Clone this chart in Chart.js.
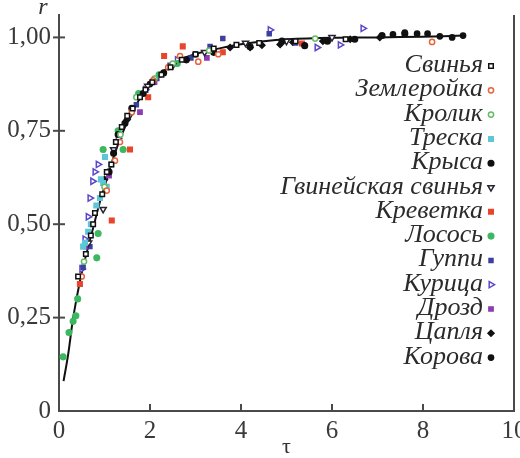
<!DOCTYPE html>
<html>
<head>
<meta charset="utf-8">
<script src="https://cdn.jsdelivr.net/npm/chart.js@4.4.1/dist/chart.umd.min.js"></script>
<style>
  html, body { margin: 0; padding: 0; background: #fff; }
  canvas { display: block; }
</style>
</head>
<body>
<canvas id="growth" width="520" height="458"></canvas>
<script>
// species names, in legend order
const speciesNames = [
  "Свинья", "Землеройка", "Кролик", "Треска", "Крыса", "Гвинейская свинья",
  "Креветка", "Лосось", "Гуппи", "Курица", "Дрозд", "Цапля", "Корова"
];

// measured points [tau, r] per species
const svinya = [[0.42,0.36],[0.59,0.42],[0.70,0.47],[0.75,0.50],[0.79,0.53],[0.95,0.58],[1.05,0.64],[1.15,0.66],
  [1.25,0.72],[1.38,0.76],[1.5,0.79],[1.62,0.81],[1.78,0.84],[1.9,0.86],[2.05,0.88],[2.25,0.90],[2.45,0.92],
  [2.7,0.94],[3.0,0.955],[3.4,0.97],[3.9,0.98],[4.4,0.985],[5.2,0.99],[6.3,0.995]];
const zemleroyka = [[0.5,0.36],[1.05,0.59],[1.23,0.67],[1.34,0.72],[1.6,0.80],[2.07,0.885],[2.4,0.92],
  [2.66,0.95],[3.06,0.935],[3.5,0.955],[8.2,0.988]];
const krolik = [[0.55,0.40],[1.0,0.60],[1.35,0.74],[1.7,0.84],[2.1,0.89],[2.5,0.93],[3.3,0.965],[5.63,0.997]];
const treska = [[0.53,0.44],[0.57,0.45],[0.64,0.48],[0.7,0.50],[0.82,0.55],[0.9,0.57],[0.92,0.62],[0.97,0.61],
  [1.01,0.68],[1.05,0.60],[1.15,0.66]];
const krysa = [[1.1,0.64],[1.2,0.69],[1.3,0.74],[1.45,0.77],[1.6,0.81],[1.85,0.85],[2.3,0.905],[2.8,0.94],
  [3.4,0.96],[4.2,0.975],[4.9,0.99],[5.4,0.978],[5.9,0.99],[6.5,0.995],[7.1,1.005],[7.6,1.01]];
const gvSvinya = [[0.65,0.45],[0.97,0.54],[1.2,0.70],[1.55,0.79],[1.95,0.87],[2.5,0.925],[3.2,0.96],
  [4.1,0.985],[5.0,0.99],[6.0,1.0]];
const krevetka = [[0.46,0.34],[1.16,0.51],[1.56,0.70],[1.96,0.84],[2.31,0.95],[2.72,0.976],[3.6,0.96],[5.34,0.984]];
const losos = [[0.09,0.145],[0.22,0.21],[0.31,0.24],[0.37,0.255],[0.41,0.30],[0.83,0.41],[0.86,0.475],
  [0.97,0.70],[1.41,0.70],[1.3,0.75],[1.75,0.85],[2.2,0.90],[2.6,0.93]];
const guppi = [[0.53,0.385],[0.68,0.44],[1.28,0.72],[1.7,0.82],[2.15,0.89],[2.9,0.945],[3.32,0.976],
  [3.6,0.997],[4.62,1.01],[5.2,0.985]];
const kuritsa = [[0.5,0.38],[0.57,0.46],[0.64,0.52],[0.68,0.57],[0.74,0.615],[0.79,0.64],[0.86,0.66],
  [1.3,0.73],[1.9,0.86],[2.6,0.94],[4.64,1.02],[5.67,0.973],[6.18,0.98],[6.68,1.024]];
const drozd = [[0.6,0.44],[1.1,0.63],[1.78,0.80],[2.1,0.88],[2.44,0.925],[3.25,0.945]];
const tsaplya = [[1.0,0.62],[1.5,0.78],[3.76,0.973],[4.2,0.973],[4.46,0.979],[4.86,0.981],[5.14,0.987],
  [5.8,0.99],[6.4,0.995],[7.05,1.0]];
const korova = [[2.0,0.875],[3.0,0.955],[7.34,1.008],[7.6,1.013],[7.87,1.01],[8.1,1.01],[8.37,1.003],
  [8.64,1.0],[8.88,1.005]];

// fitted curve
const curveTau = [0.1,0.2,0.3,0.4,0.5,0.6,0.75,0.9,1.0,1.2,1.4,1.6,1.8,2.0,2.25,2.5,2.75,3.0,3.5,4.0,4.5,5.0,6.0,7.0,8.0,8.9];
const curveR   = [0.08,0.15,0.24,0.31,0.37,0.42,0.49,0.56,0.60,0.68,0.745,0.80,0.84,0.875,0.905,0.928,0.945,0.956,0.97,0.982,0.99,0.995,0.999,1.0,1.002,1.005];

// axis ticks
const xTicks = [0, 2, 4, 6, 8, 10];
const yTicks = [0, 0.25, 0.5, 0.75, 1];
const yTickLabels = ["0", "0,25", "0,50", "0,75", "1,00"];

const seriesData = [svinya, zemleroyka, krolik, treska, krysa, gvSvinya, krevetka, losos, guppi, kuritsa, drozd, tsaplya, korova];

// marker styles per species: [pointStyle, rotation, fill, border, radius]
const markerStyles = [
  ["rect", 0, "#ffffff", "#111111", 3.2],
  ["circle", 0, "#ffffff", "#e8623a", 2.6],
  ["circle", 0, "#ffffff", "#66bb66", 2.6],
  ["rect", 0, "#5ec6d6", "#5ec6d6", 3.2],
  ["circle", 0, "#111111", "#111111", 2.8],
  ["triangle", 180, "#ffffff", "#2a2233", 3.6],
  ["rect", 0, "#e8452c", "#e8452c", 3.2],
  ["circle", 0, "#3cb860", "#3cb860", 2.8],
  ["rect", 0, "#3d3fa0", "#3d3fa0", 2.8],
  ["triangle", 90, "#ffffff", "#5a48c8", 3.6],
  ["rect", 0, "#8e3cb4", "#8e3cb4", 3.0],
  ["rectRot", 0, "#111111", "#111111", 3.0],
  ["circle", 0, "#111111", "#111111", 2.6]
];

const datasets = seriesData.map((pts, i) => {
  const s = markerStyles[i];
  return {
    label: speciesNames[i],
    data: pts.map(p => ({ x: p[0], y: p[1] })),
    pointStyle: s[0],
    rotation: s[1],
    backgroundColor: s[2],
    borderColor: s[3],
    pointRadius: s[4],
    pointBorderWidth: 1.5,
    showLine: false
  };
});

// curve drawn under the points
datasets.push({
  type: "line",
  label: "curve",
  data: curveTau.map((t, i) => ({ x: t, y: curveR[i] })),
  borderColor: "#111111",
  borderWidth: 2,
  pointRadius: 0,
  tension: 0.4,
  fill: false
});

const serif = '"Liberation Serif", "Times New Roman", serif';
const axisColor = "#4a4a4a";
const tickFont = { family: serif, size: 25 };

const decorPlugin = {
  id: "decor",
  afterDatasetsDraw(chart) {
    const { ctx, chartArea, scales } = chart;
    ctx.save();
    ctx.strokeStyle = axisColor;
    ctx.lineWidth = 2;
    // right frame line
    ctx.beginPath();
    ctx.moveTo(chartArea.right, chartArea.top);
    ctx.lineTo(chartArea.right, chartArea.bottom);
    ctx.stroke();
    // y ticks crossing the axis
    yTicks.forEach(v => {
      if (v === 0) return;
      const y = scales.y.getPixelForValue(v);
      ctx.beginPath();
      ctx.moveTo(chartArea.left - 6, y);
      ctx.lineTo(chartArea.left + 6, y);
      ctx.stroke();
    });
    // x ticks pointing inward
    xTicks.forEach(v => {
      if (v === 0 || v === 10) return;
      const x = scales.x.getPixelForValue(v);
      ctx.beginPath();
      ctx.moveTo(x, chartArea.bottom);
      ctx.lineTo(x, chartArea.bottom - 7);
      ctx.stroke();
    });
    // axis name r
    ctx.fillStyle = "#333";
    ctx.font = "italic 24px " + serif;
    ctx.textAlign = "center";
    ctx.textBaseline = "alphabetic";
    ctx.fillText("r", chartArea.left - 16, 14);

    // legend, right aligned, marker on the right
    ctx.font = "italic 26px " + serif;
    ctx.textAlign = "right";
    speciesNames.forEach((name, i) => {
      const my = 66 + i * 24.3;
      ctx.fillStyle = "#2b2b2b";
      ctx.fillText(name, 483, my + 6);
      const s = markerStyles[i];
      ctx.fillStyle = s[2];
      ctx.strokeStyle = s[3];
      ctx.lineWidth = 1.5;
      Chart.helpers.drawPoint(ctx, { pointStyle: s[0], rotation: s[1], radius: s[4], borderWidth: 1.5 }, 491, my);
    });
    ctx.restore();
  }
};

function drawChart() {
  new Chart(document.getElementById("growth").getContext("2d"), {
    type: "scatter",
    data: { datasets: datasets },
    options: {
      responsive: false,
      animation: false,
      layout: { padding: { top: 15, right: 6, left: 0, bottom: 0 } },
      plugins: { legend: { display: false }, tooltip: { enabled: false } },
      scales: {
        x: {
          type: "linear",
          min: 0,
          max: 10,
          afterBuildTicks: (scale) => { scale.ticks = xTicks.map(v => ({ value: v })); },
          ticks: { font: tickFont, color: "#3a3a3a", padding: 5, maxRotation: 0, autoSkip: false },
          grid: { display: false, drawTicks: false },
          border: { display: true, color: axisColor, width: 2 },
          title: {
            display: true, text: "τ", color: "#333",
            font: { family: serif, size: 22, lineHeight: 1.0 },
            padding: { top: 0, bottom: 0 }
          },
          afterFit: (scale) => {
            scale.height = 47;
            scale.paddingLeft = 0; scale.paddingRight = 0;
          }
        },
        y: {
          type: "linear",
          min: 0,
          max: 1.06,
          afterBuildTicks: (scale) => { scale.ticks = yTicks.map(v => ({ value: v })); },
          ticks: {
            font: tickFont, color: "#3a3a3a", padding: 8, autoSkip: false,
            callback: (v) => yTickLabels[yTicks.indexOf(v)]
          },
          grid: { display: false, drawTicks: false },
          border: { display: true, color: axisColor, width: 2 },
          afterFit: (scale) => {
            scale.width = 59;
            scale.paddingTop = 0; scale.paddingBottom = 0;
          }
        }
      }
    },
    plugins: [decorPlugin]
  });
}

Promise.all([
  document.fonts.load('25px "Liberation Serif"'),
  document.fonts.load('italic 26px "Liberation Serif"')
]).then(drawChart, drawChart);
</script>
</body>
</html>
